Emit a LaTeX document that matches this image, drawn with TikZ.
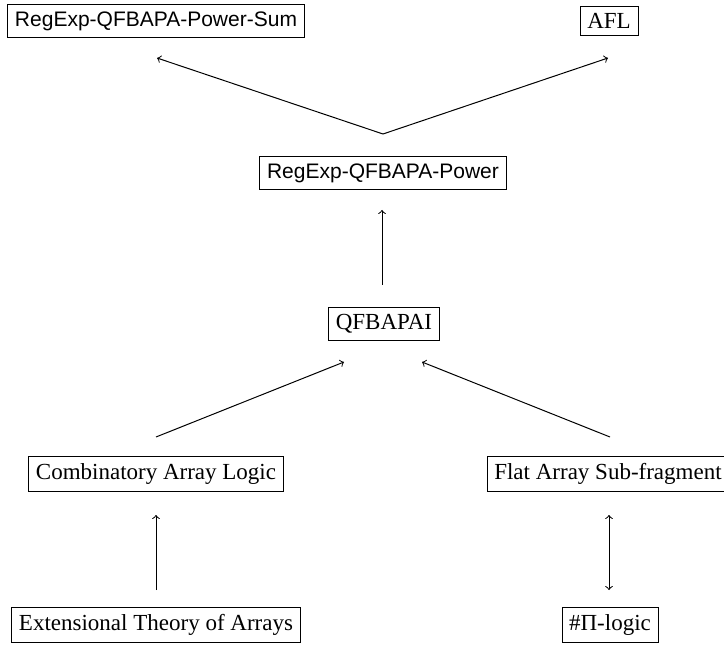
\documentclass[tikz,border=0pt]{standalone}
\usepackage{fontspec}
\setmainfont{Liberation Serif}
\newfontfamily\helvfont{Liberation Sans}
\tikzset{
        logic/.style={draw=black, rectangle, inner sep=3.6pt, font=\fontsize{11.5}{13}\selectfont},
        sanslogic/.style={logic, font=\helvfont\fontsize{10.5}{12}\selectfont},
        reduces/.style={->, line width=0.5pt},
        equiv/.style={<->, line width=0.5pt}
          }
\begin{document}
\begin{tikzpicture}[x=0.5pt, y=-0.5pt]
        \useasboundingbox (0,0) rectangle (724,647);
        % theories
        \node[sanslogic] (sum) at (156,21) {RegExp-QFBAPA-Power-Sum};
        \node[logic] (afl) at (609,21) {AFL};
        \node[sanslogic] (power) at (383,173) {RegExp-QFBAPA-Power};
        \node[logic] (qfbapai) at (384,324) {QFBAPAI};
        \node[logic] (cal) at (156,474) {Combinatory Array Logic};
        \node[logic] (flat) at (608,474) {Flat Array Sub-fragment};
        \node[logic] (eta) at (156,625) {Extensional Theory of Arrays};
        \node[logic] (pilogic) at (610,625) {\#Π-logic};
        % arrow ends
        \coordinate (fork) at (383,134);
        \coordinate (sumin) at (157,58);
        \coordinate (aflin) at (608,58);
        \coordinate (powerin) at (382,210);
        \coordinate (qfbapaiout) at (382,285);
        \coordinate (qfbapaiinl) at (344,362);
        \coordinate (qfbapaiinr) at (422,362);
        \coordinate (calout) at (156,437);
        \coordinate (flatout) at (610,437);
        \coordinate (calin) at (156,515);
        \coordinate (etaout) at (156,590);
        \coordinate (flatin) at (609,515);
        \coordinate (piout) at (609,590);
        % reductions
        \draw[reduces] (fork) -- (sumin);
        \draw[reduces] (fork) -- (aflin);
        \draw[reduces] (qfbapaiout) -- (powerin);
        \draw[reduces] (calout) -- (qfbapaiinl);
        \draw[reduces] (flatout) -- (qfbapaiinr);
        \draw[reduces] (etaout) -- (calin);
        \draw[equiv] (piout) -- (flatin);
\end{tikzpicture}
\end{document}
